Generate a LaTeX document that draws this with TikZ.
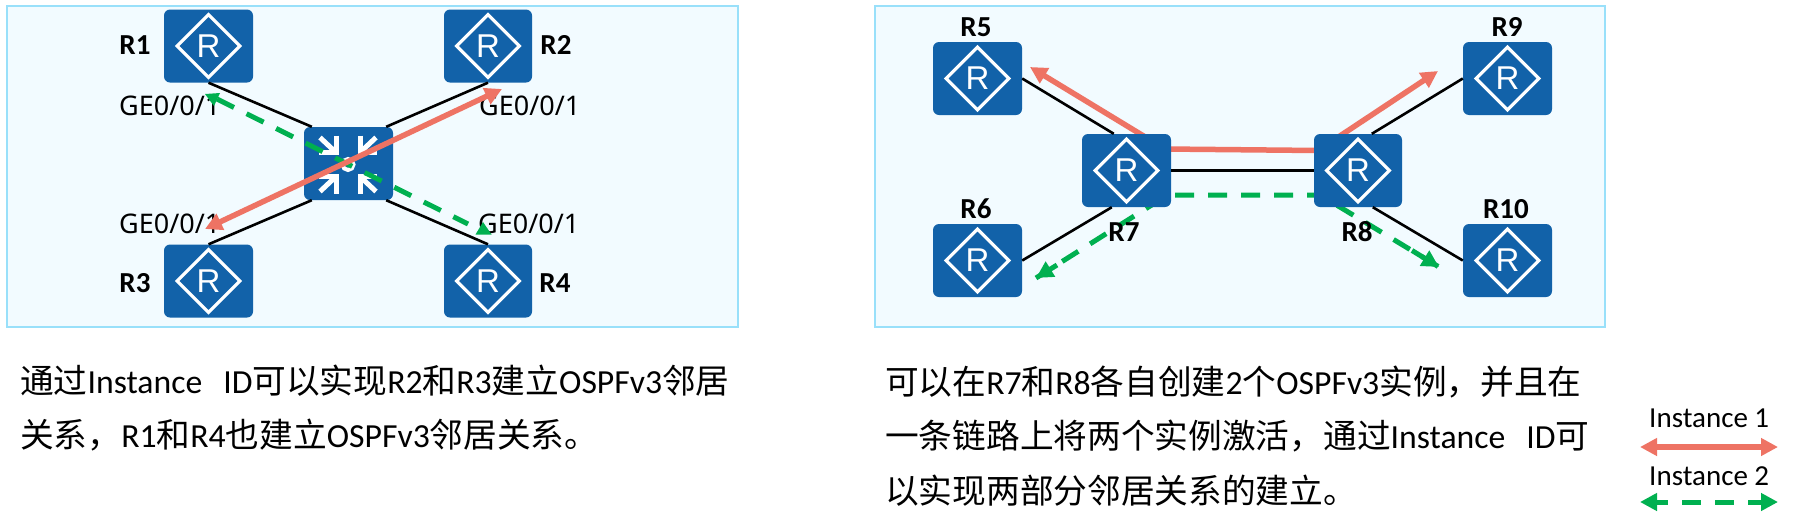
\documentclass[tikz,border=0pt]{standalone}
\usepackage{fontspec}
\usetikzlibrary{arrows.meta,shapes.geometric,calc}
\setmainfont{Carlito}
\newfontfamily\cjk{Noto Sans CJK SC}
\newfontfamily\gefont{Noto Sans}
\newfontfamily\rfont{Liberation Sans}
\definecolor{panelfill}{HTML}{F2FBFF}
\definecolor{panelline}{HTML}{99E0FA}
\definecolor{devblue}{HTML}{1262A9}
\definecolor{redline}{HTML}{EE7364}
\definecolor{greenline}{HTML}{00B050}
\tikzset{
  panel/.style={fill=panelfill,draw=panelline,line width=2pt},
  devbox/.style={rectangle,rounded corners=6pt,fill=devblue,inner sep=0pt,minimum height=73pt},
  devmark/.style={diamond,draw=white,line width=3.2pt,inner sep=0pt,text=white,font=\rfont\fontsize{33}{33}\selectfont},
  link/.style={black,line width=2.6pt},
  redarrow/.style={redline,line width=5.5pt,line join=miter,{Triangle[length=17pt,width=17pt]}-{Triangle[length=17pt,width=17pt]}},
  greenplain/.style={greenline,line width=5pt,dash pattern=on 19pt off 14pt},
  greenhead/.style={greenline,line width=5pt,solid,-{Triangle[length=17pt,width=17pt]}},
  devlabel/.style={font=\bfseries\fontsize{29}{29}\selectfont,inner sep=0pt},
  portlabel/.style={font=\gefont\fontsize{27}{27}\selectfont,inner sep=0pt,anchor=west},
  bodytext/.style={font=\fontsize{33.7}{33.7}\selectfont,inner sep=0pt,anchor=base west},
  legendtext/.style={font=\fontsize{29}{29}\selectfont,inner sep=0pt,anchor=west},
  swmark/.style={white,line width=5pt,line join=miter}
}
\newcommand{\devat}[4]{%
  \node[devbox,minimum width=#4pt] (#1) at (#2,#3) {};
  \node[devmark,minimum width=64pt,minimum height=64pt] (#1m) at (#2,#3) {R};
}
\begin{document}
\begin{tikzpicture}[x=1pt,y=-1pt]
\useasboundingbox (0,0) rectangle (1800,531);
\fill[white] (0,0) rectangle (1800,531);
% panels
\draw[panel] (7,6) rectangle (738,327);
\draw[panel] (875,6) rectangle (1605,327);
% port labels
\node[portlabel] (p1) at (119,106) {GE0/0/1};
\node[portlabel] (p2) at (479,106) {GE0/0/1};
\node[portlabel] (p3) at (119,224) {GE0/0/1};
\node[portlabel] (p4) at (478,224) {GE0/0/1};
% left devices
\devat{ra}{208.5}{46}{89}
\devat{rb}{488}{46}{88}
\devat{rc}{208.5}{281}{89}
\devat{rd}{488}{281}{88}
\node[devbox,minimum width=89pt] (sw) at (348.5,163.5) {};
\draw[link] (ra.south) -- ([xshift=8pt]sw.north west);
\draw[link] (rb.south) -- ([xshift=-7pt]sw.north east);
\draw[link] (rc.north) -- ([xshift=8pt]sw.south west);
\draw[link] (rd.north) -- ([xshift=-7pt]sw.south east);
% switch mark
\coordinate (swc) at (348,164.5);
\foreach \sx/\sy in {1/1,-1/1,1/-1,-1/-1}{
  \begin{scope}[shift={(swc)},xscale=\sx,yscale=\sy]
    \draw[swmark] (-12,-29) -- (-12,-12) -- (-29,-12);
    \draw[swmark] (-28,-27) -- (-12,-12);
  \end{scope}
}
\draw[white,line width=4pt] (swc) circle (5.5pt);
% left arrows
\coordinate (ga) at (217,99);
\coordinate (gb) at (468,224);
\draw[greenplain] (ga) -- (gb);
\fill[greenline] (205,94) -- (220,93) -- (214,106) -- cycle;
\fill[greenline] (483,222) -- (475.5,234.5) -- (491.5,234.5) -- cycle;
\coordinate (ra1) at (205,229);
\coordinate (ra2) at (502,89);
\draw[redarrow] (ra1) -- (ra2);
% left labels
\node[devlabel] (l1) at (135,45) {R1};
\node[devlabel] (l2) at (556,45) {R2};
\node[devlabel] (l3) at (135,283) {R3};
\node[devlabel] (l4) at (555,283) {R4};
% right: arrows behind the routers
\coordinate (rq1) at (1030,67);
\coordinate (rq2) at (1165,149);
\coordinate (rq3) at (1318,150.5);
\coordinate (rq4) at (1438,71);
\draw[redarrow] (rq1) -- (rq2) -- (rq3) -- (rq4);
\coordinate (gq1) at (1036,278);
\coordinate (gq2) at (1167.5,195);
\coordinate (gq3) at (1320,195);
\coordinate (gq4) at (1439,267);
\coordinate (gs1) at (1057,265);
\coordinate (gs2) at (1412,250.5);
\draw[greenplain,dash phase=2pt] (gq1) -- (gq2) -- (gq3) -- (gq4);
\draw[greenhead] (gs1) -- (gq1);
\draw[greenhead] (gs2) -- (gq4);
% right devices
\devat{re}{977.5}{78.5}{89}
\devat{rf}{977.5}{260.5}{89}
\devat{rg}{1126.5}{170.5}{89}
\devat{rh}{1358}{170.5}{88}
\devat{ri}{1507.5}{78.5}{89}
\devat{rj}{1507.5}{260.5}{89}
\draw[link] (re.east) -- ([xshift=32pt]rg.north west);
\draw[link] (rf.east) -- ([xshift=30pt]rg.south west);
\draw[link] (rg.east) -- (rh.west);
\draw[link] (ri.west) -- ([xshift=58pt]rh.north west);
\draw[link] (rj.west) -- ([xshift=59pt]rh.south west);
% right labels
\node[devlabel] (l5) at (976,27) {R5};
\node[devlabel] (l6) at (976,209) {R6};
\node[devlabel] (l7) at (1124,232) {R7};
\node[devlabel] (l8) at (1357,232) {R8};
\node[devlabel] (l9) at (1507,27) {R9};
\node[devlabel] (l10) at (1506,209) {R10};
% body text
\node[bodytext] (t1) at (20,393) {{\cjk 通过}Instance\hspace{21pt}ID{\cjk 可以实现}R2{\cjk 和}R3{\cjk 建立}OSPFv3{\cjk 邻居}};
\node[bodytext] (t2) at (20,447) {{\cjk 关系，}R1{\cjk 和}R4{\cjk 也建立}OSPFv3{\cjk 邻居关系。}};
\node[bodytext] (t3) at (885,394) {{\cjk 可以在}R7{\cjk 和}R8{\cjk 各自创建}2{\cjk 个}OSPFv3{\cjk 实例，并且在}};
\node[bodytext] (t4) at (885,448) {{\cjk 一条链路上将两个实例激活，通过}Instance\hspace{21pt}ID{\cjk 可}};
\node[bodytext] (t5) at (885,503) {{\cjk 以实现两部分邻居关系的建立。}};
% legend
\node[legendtext] (i1) at (1649,418) {Instance 1};
\node[legendtext] (i2) at (1649,476) {Instance 2};
\coordinate (la) at (1640,447);
\coordinate (lb) at (1778,447);
\draw[redarrow] (la) -- (lb);
\coordinate (lc) at (1640,502);
\coordinate (ld) at (1778,502);
\coordinate (le) at (1660,502);
\coordinate (lf) at (1758,502);
\draw[greenplain,dash phase=-9pt] (lc) -- (ld);
\draw[greenhead] (le) -- (lc);
\draw[greenhead] (lf) -- (ld);
\end{tikzpicture}
\end{document}
